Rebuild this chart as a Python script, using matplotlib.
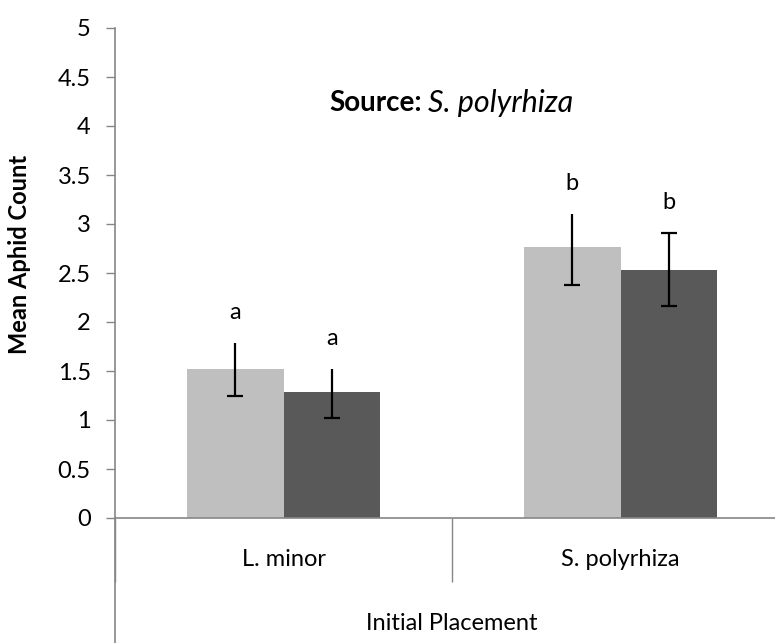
import matplotlib
matplotlib.use("Agg")
import matplotlib.pyplot as plt
import numpy as np

plt.rcParams['font.family'] = ['Lato', 'DejaVu Sans']

# data
placements = ["L. minor", "S. polyrhiza"]
light_means = [1.52, 2.77]
light_err_low = [1.24, 2.38]
light_err_high = [1.79, 3.10]
dark_means = [1.29, 2.53]
dark_err_low = [1.02, 2.16]
dark_err_high = [1.52, 2.91]
light_letters = ["a", "b"]
dark_letters = ["a", "b"]
y_ticks = [0, 0.5, 1, 1.5, 2, 2.5, 3, 3.5, 4, 4.5, 5]

axis_gray = "#868686"
light_color = "#BFBFBF"
dark_color = "#595959"

fig = plt.figure(figsize=(7.75, 6.43), dpi=100)
ax = fig.add_axes([115 / 775, 125 / 643, 674 / 775, 490 / 643])

centers = np.arange(len(placements)) + 0.5
width = 0.286

ax.bar(centers - width / 2, light_means, width, color=light_color, zorder=2)
ax.bar(centers + width / 2, dark_means, width, color=dark_color, zorder=2)

# error bars: vertical lines, caps at the lower end (upper cap only on the last one)
for xs, lo, hi in [(centers - width / 2, light_err_low, light_err_high),
                   (centers + width / 2, dark_err_low, dark_err_high)]:
    ax.vlines(xs, lo, hi, color="black", lw=1.6, zorder=3)
    ax.plot(xs, lo, ls="none", marker="_", ms=12, mew=1.6, color="black", zorder=3)
ax.plot(centers[1] + width / 2, dark_err_high[1], ls="none", marker="_", ms=12,
        mew=1.6, color="black", zorder=3)

# significance letters
for xs, tops, letters in [(centers - width / 2, light_err_high, light_letters),
                          (centers + width / 2, dark_err_high, dark_letters)]:
    for x, t, s in zip(xs, tops, letters):
        ax.annotate(s, (x, t), xytext=(0, 22), textcoords="offset points",
                    ha="center", va="center", fontsize=17)

ax.set_xlim(0, 2)
ax.set_ylim(0, 5)
ax.set_yticks(y_ticks)
ax.set_yticklabels([f"{v:g}" for v in y_ticks], fontsize=17)
ax.tick_params(axis="y", direction="out", length=6.5, width=1, color=axis_gray, pad=11)

# category boundaries as long major ticks, labels on minor ticks
ax.set_xticks([0, 1, 2])
ax.set_xticklabels([])
ax.tick_params(axis="x", which="major", direction="out", length=46, width=1, color=axis_gray)
ax.set_xticks(centers, minor=True)
ax.set_xticklabels(placements, minor=True, fontsize=17)
ax.tick_params(axis="x", which="minor", length=0, pad=22)

for side in ["top", "right"]:
    ax.spines[side].set_visible(False)
for side in ["left", "bottom"]:
    ax.spines[side].set_color(axis_gray)
    ax.spines[side].set_linewidth(1.2)

# left axis line continues down through the category area
ax.plot([0, 0], [0, -0.26], transform=ax.get_xaxis_transform(), color=axis_gray,
        lw=1.2, clip_on=False)

ax.set_xlabel("Initial Placement", fontsize=17)
ax.xaxis.set_label_coords(0.5, -0.216)
ax.xaxis.label.set_va("center")

ax.set_ylabel("Mean Aphid Count", fontsize=17, fontweight="bold")
ax.yaxis.set_label_coords(-0.125, 0.537)

# title: bold part and italic part side by side
ax.text(0.455, 0.847, "Source:", transform=ax.transAxes, ha="right", va="center",
        fontsize=20, fontweight="bold")
ax.text(0.465, 0.847, "S. polyrhiza", transform=ax.transAxes, ha="left", va="center",
        fontsize=22, style="italic")

fig.savefig("out.png", dpi=100)
